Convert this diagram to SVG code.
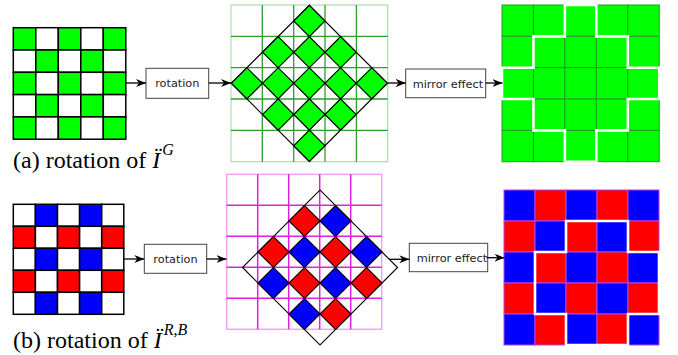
<svg xmlns="http://www.w3.org/2000/svg" width="678" height="355" viewBox="0 0 678 355">
<defs>
<style>
.g{fill:#00ff00}.r{fill:#ff0000}.b{fill:#0000ff}.w{fill:#ffffff}
.cb rect{stroke:#000;stroke-width:1.5}
.dm rect{stroke:#000;stroke-width:1.2}
.box{fill:#fff;stroke:#444;stroke-width:1}
.bt{font-family:"DejaVu Sans",sans-serif;font-size:11.3px;fill:#222}
.lbl{font-size:24px;fill:#000}
.conn line{stroke:#000;stroke-width:1.3;marker-end:url(#ah)}
.gg{stroke:#2ca02c;stroke-width:1.3}
.mg{stroke:#e020e0;stroke-width:1.5}
.tr rect{stroke:#1f9f1f;stroke-width:1}
.br rect{stroke:#c040e0;stroke-width:1}
.wp{fill:none;stroke:#fff;stroke-width:2.6}
</style>
<marker id="ah" markerWidth="11" markerHeight="8" refX="10" refY="4" orient="auto" markerUnits="userSpaceOnUse">
<path d="M0,0 L10,4 L0,8 L3,4 Z" fill="#000"/>
</marker>
</defs>
<rect width="678" height="355" fill="#fff"/>

<!-- Top left checkerboard -->
<g id="inputG" class="cb">
<rect class="g" x="13.3" y="27.7" width="22.5" height="22.3"/><rect class="w" x="35.8" y="27.7" width="22.5" height="22.3"/><rect class="g" x="58.3" y="27.7" width="22.5" height="22.3"/><rect class="w" x="80.8" y="27.7" width="22.5" height="22.3"/><rect class="g" x="103.3" y="27.7" width="22.5" height="22.3"/>
<rect class="w" x="13.3" y="50" width="22.5" height="22.3"/><rect class="g" x="35.8" y="50" width="22.5" height="22.3"/><rect class="w" x="58.3" y="50" width="22.5" height="22.3"/><rect class="g" x="80.8" y="50" width="22.5" height="22.3"/><rect class="w" x="103.3" y="50" width="22.5" height="22.3"/>
<rect class="g" x="13.3" y="72.3" width="22.5" height="22.3"/><rect class="w" x="35.8" y="72.3" width="22.5" height="22.3"/><rect class="g" x="58.3" y="72.3" width="22.5" height="22.3"/><rect class="w" x="80.8" y="72.3" width="22.5" height="22.3"/><rect class="g" x="103.3" y="72.3" width="22.5" height="22.3"/>
<rect class="w" x="13.3" y="94.6" width="22.5" height="22.3"/><rect class="g" x="35.8" y="94.6" width="22.5" height="22.3"/><rect class="w" x="58.3" y="94.6" width="22.5" height="22.3"/><rect class="g" x="80.8" y="94.6" width="22.5" height="22.3"/><rect class="w" x="103.3" y="94.6" width="22.5" height="22.3"/>
<rect class="g" x="13.3" y="116.9" width="22.5" height="22.3"/><rect class="w" x="35.8" y="116.9" width="22.5" height="22.3"/><rect class="g" x="58.3" y="116.9" width="22.5" height="22.3"/><rect class="w" x="80.8" y="116.9" width="22.5" height="22.3"/><rect class="g" x="103.3" y="116.9" width="22.5" height="22.3"/>
</g>

<g id="rot1"><rect class="box" x="146" y="68.3" width="62.7" height="30"/><text class="bt" x="177.3" y="87.3" text-anchor="middle">rotation</text></g>

<!-- Top middle rotated -->
<g id="rotatedG">
<rect x="231" y="5" width="156.7" height="156.7" fill="none" stroke="#b0e0b0" stroke-width="1.3"/>
<path class="gg" d="M262.3,5V161.7M293.7,5V161.7M325,5V161.7M356.4,5V161.7M231,36.3H387.7M231,67.7H387.7M231,99H387.7M231,130.4H387.7"/>
<g class="dm" transform="translate(309.35,83.35) rotate(45)">
<rect x="-55.15" y="-55.15" width="110.3" height="110.3" fill="none"/>
<rect class="g" x="-55.15" y="-55.15" width="22.06" height="22.06"/><rect class="g" x="-11.03" y="-55.15" width="22.06" height="22.06"/><rect class="g" x="33.09" y="-55.15" width="22.06" height="22.06"/>
<rect class="g" x="-33.09" y="-33.09" width="22.06" height="22.06"/><rect class="g" x="11.03" y="-33.09" width="22.06" height="22.06"/>
<rect class="g" x="-55.15" y="-11.03" width="22.06" height="22.06"/><rect class="g" x="-11.03" y="-11.03" width="22.06" height="22.06"/><rect class="g" x="33.09" y="-11.03" width="22.06" height="22.06"/>
<rect class="g" x="-33.09" y="11.03" width="22.06" height="22.06"/><rect class="g" x="11.03" y="11.03" width="22.06" height="22.06"/>
<rect class="g" x="-55.15" y="33.09" width="22.06" height="22.06"/><rect class="g" x="-11.03" y="33.09" width="22.06" height="22.06"/><rect class="g" x="33.09" y="33.09" width="22.06" height="22.06"/>
</g>
</g>

<g id="mirror1"><rect class="box" x="405.7" y="69" width="80" height="28.7"/><text class="bt" x="412.7" y="87.5">mirror effect</text></g>

<!-- Top right result -->
<g id="resultG" class="tr">
<rect class="g" x="502" y="5" width="31.45" height="31.34"/><rect class="g" x="533.45" y="5" width="31.45" height="31.34"/><rect class="g" x="564.9" y="5" width="31.45" height="31.34"/><rect class="g" x="596.35" y="5" width="31.45" height="31.34"/><rect class="g" x="627.8" y="5" width="31.45" height="31.34"/>
<rect class="g" x="502" y="36.34" width="31.45" height="31.34"/><rect class="g" x="533.45" y="36.34" width="31.45" height="31.34"/><rect class="g" x="564.9" y="36.34" width="31.45" height="31.34"/><rect class="g" x="596.35" y="36.34" width="31.45" height="31.34"/><rect class="g" x="627.8" y="36.34" width="31.45" height="31.34"/>
<rect class="g" x="502" y="67.68" width="31.45" height="31.34"/><rect class="g" x="533.45" y="67.68" width="31.45" height="31.34"/><rect class="g" x="564.9" y="67.68" width="31.45" height="31.34"/><rect class="g" x="596.35" y="67.68" width="31.45" height="31.34"/><rect class="g" x="627.8" y="67.68" width="31.45" height="31.34"/>
<rect class="g" x="502" y="99.02" width="31.45" height="31.34"/><rect class="g" x="533.45" y="99.02" width="31.45" height="31.34"/><rect class="g" x="564.9" y="99.02" width="31.45" height="31.34"/><rect class="g" x="596.35" y="99.02" width="31.45" height="31.34"/><rect class="g" x="627.8" y="99.02" width="31.45" height="31.34"/>
<rect class="g" x="502" y="130.36" width="31.45" height="31.34"/><rect class="g" x="533.45" y="130.36" width="31.45" height="31.34"/><rect class="g" x="564.9" y="130.36" width="31.45" height="31.34"/><rect class="g" x="596.35" y="130.36" width="31.45" height="31.34"/><rect class="g" x="627.8" y="130.36" width="31.45" height="31.34"/>
<path class="wp" d="M564.9,5H596.35V36.34H627.8V67.68H659.25V99.02H627.8V130.36H596.35V161.7H564.9V130.36H533.45V99.02H502V67.68H533.45V36.34H564.9Z"/>
</g>

<text class="lbl" x="13" y="168" font-family="'Liberation Serif','Times New Roman','DejaVu Serif',serif">(a) rotation of <tspan font-style="italic">Ï</tspan><tspan font-style="italic" font-size="16" dx="2" dy="-13">G</tspan></text>

<!-- Bottom left checkerboard -->
<g id="inputRB" class="cb">
<rect class="w" x="13.3" y="204.3" width="22.1" height="22"/><rect class="b" x="35.4" y="204.3" width="22.1" height="22"/><rect class="w" x="57.5" y="204.3" width="22.1" height="22"/><rect class="b" x="79.6" y="204.3" width="22.1" height="22"/><rect class="w" x="101.7" y="204.3" width="22.1" height="22"/>
<rect class="r" x="13.3" y="226.3" width="22.1" height="22"/><rect class="w" x="35.4" y="226.3" width="22.1" height="22"/><rect class="r" x="57.5" y="226.3" width="22.1" height="22"/><rect class="w" x="79.6" y="226.3" width="22.1" height="22"/><rect class="r" x="101.7" y="226.3" width="22.1" height="22"/>
<rect class="w" x="13.3" y="248.3" width="22.1" height="22"/><rect class="b" x="35.4" y="248.3" width="22.1" height="22"/><rect class="w" x="57.5" y="248.3" width="22.1" height="22"/><rect class="b" x="79.6" y="248.3" width="22.1" height="22"/><rect class="w" x="101.7" y="248.3" width="22.1" height="22"/>
<rect class="r" x="13.3" y="270.3" width="22.1" height="22"/><rect class="w" x="35.4" y="270.3" width="22.1" height="22"/><rect class="r" x="57.5" y="270.3" width="22.1" height="22"/><rect class="w" x="79.6" y="270.3" width="22.1" height="22"/><rect class="r" x="101.7" y="270.3" width="22.1" height="22"/>
<rect class="w" x="13.3" y="292.3" width="22.1" height="22"/><rect class="b" x="35.4" y="292.3" width="22.1" height="22"/><rect class="w" x="57.5" y="292.3" width="22.1" height="22"/><rect class="b" x="79.6" y="292.3" width="22.1" height="22"/><rect class="w" x="101.7" y="292.3" width="22.1" height="22"/>
</g>

<g id="rot2"><rect class="box" x="144.3" y="244.3" width="62.4" height="29"/><text class="bt" x="175.5" y="263" text-anchor="middle">rotation</text></g>

<!-- Bottom middle rotated -->
<g id="rotatedRB">
<rect x="226.7" y="174.3" width="155" height="155" fill="none" stroke="#f4a0f4" stroke-width="1.5"/>
<path class="mg" d="M257.7,174.3V329.3M288.7,174.3V329.3M319.7,174.3V329.3M350.7,174.3V329.3M226.7,205.3H381.7M226.7,236.3H381.7M226.7,267.3H381.7M226.7,298.3H381.7"/>
<g class="dm" transform="translate(320,267.5) rotate(45)">
<rect x="-54.8" y="-54.8" width="109.6" height="109.6" fill="none"/>
<rect class="b" x="-32.88" y="-54.8" width="21.92" height="21.92"/><rect class="b" x="10.96" y="-54.8" width="21.92" height="21.92"/>
<rect class="r" x="-54.8" y="-32.88" width="21.92" height="21.92"/><rect class="r" x="-10.96" y="-32.88" width="21.92" height="21.92"/><rect class="r" x="32.88" y="-32.88" width="21.92" height="21.92"/>
<rect class="b" x="-32.88" y="-10.96" width="21.92" height="21.92"/><rect class="b" x="10.96" y="-10.96" width="21.92" height="21.92"/>
<rect class="r" x="-54.8" y="10.96" width="21.92" height="21.92"/><rect class="r" x="-10.96" y="10.96" width="21.92" height="21.92"/><rect class="r" x="32.88" y="10.96" width="21.92" height="21.92"/>
<rect class="b" x="-32.88" y="32.88" width="21.92" height="21.92"/><rect class="b" x="10.96" y="32.88" width="21.92" height="21.92"/>
</g>
</g>

<g id="mirror2"><rect class="box" x="409.3" y="243.3" width="78.4" height="28.4"/><text class="bt" x="416.7" y="261.5">mirror effect</text></g>

<!-- Bottom right result -->
<g id="resultRB" class="br">
<rect class="b" x="504" y="190" width="31" height="31"/><rect class="r" x="535" y="190" width="31" height="31"/><rect class="b" x="566" y="190" width="31" height="31"/><rect class="r" x="597" y="190" width="31" height="31"/><rect class="b" x="628" y="190" width="31" height="31"/>
<rect class="r" x="504" y="221" width="31" height="31"/><rect class="b" x="535" y="221" width="31" height="31"/><rect class="r" x="566" y="221" width="31" height="31"/><rect class="b" x="597" y="221" width="31" height="31"/><rect class="r" x="628" y="221" width="31" height="31"/>
<rect class="b" x="504" y="252" width="31" height="31"/><rect class="r" x="535" y="252" width="31" height="31"/><rect class="b" x="566" y="252" width="31" height="31"/><rect class="r" x="597" y="252" width="31" height="31"/><rect class="b" x="628" y="252" width="31" height="31"/>
<rect class="r" x="504" y="283" width="31" height="31"/><rect class="b" x="535" y="283" width="31" height="31"/><rect class="r" x="566" y="283" width="31" height="31"/><rect class="b" x="597" y="283" width="31" height="31"/><rect class="r" x="628" y="283" width="31" height="31"/>
<rect class="b" x="504" y="314" width="31" height="31"/><rect class="r" x="535" y="314" width="31" height="31"/><rect class="b" x="566" y="314" width="31" height="31"/><rect class="r" x="597" y="314" width="31" height="31"/><rect class="b" x="628" y="314" width="31" height="31"/>
<path class="wp" d="M566,345V314H535V252H566V221H628V252H659V314H628V345Z"/>
</g>

<text class="lbl" x="13" y="348" font-family="'Liberation Serif','Times New Roman','DejaVu Serif',serif">(b) rotation of <tspan font-style="italic">Ï</tspan><tspan font-style="italic" font-size="16" dx="2" dy="-13">R,B</tspan></text>

<g id="connectors" class="conn">
<line x1="126" y1="83" x2="146" y2="83"/>
<line x1="208.7" y1="83" x2="231" y2="83"/>
<line x1="388" y1="83" x2="405.7" y2="83"/>
<line x1="485.7" y1="83" x2="502.5" y2="83"/>
<line x1="124" y1="259" x2="144.3" y2="259"/>
<line x1="206.7" y1="259" x2="226.5" y2="259"/>
<line x1="389" y1="259.3" x2="409.3" y2="259.3"/>
<line x1="486.5" y1="257.7" x2="504.5" y2="257.7"/>
</g>
</svg>
